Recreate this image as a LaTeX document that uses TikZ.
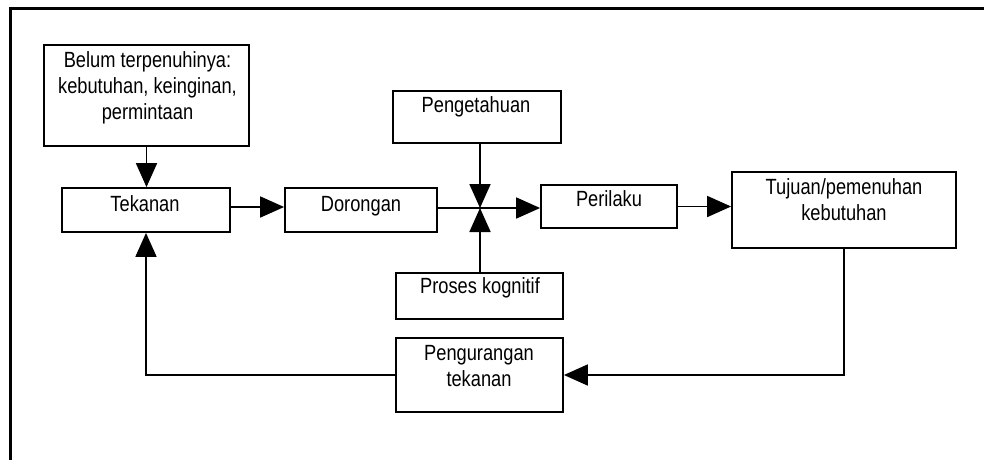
\documentclass[tikz,border=0pt]{standalone}
\usepackage{fontspec}
\setmainfont{Liberation Sans}[FakeStretch=0.83]
\usetikzlibrary{arrows.meta}
\newcommand{\mlines}[1]{\begin{tabular}[t]{@{}c@{}}#1\end{tabular}}
\begin{document}
\begin{tikzpicture}[x=1pt,y=-1pt,
  box/.style={draw, line width=1.8pt, inner sep=0pt, rectangle},
  lbl/.style={anchor=base, inner sep=0pt, font=\fontsize{22}{26}\selectfont},
  con/.style={line width=1.8pt},
  arr/.style={line width=1.8pt, -{Triangle[length=24pt,width=21pt]}}]
\useasboundingbox (0,0) rectangle (984,459);
% outer frame
\draw[line width=3pt] (10,465) -- (10,8) -- (990,8);
% boxes
\node[box, minimum width=205pt, minimum height=101pt] (belum) at (146.5,95.5) {};
\node[box, minimum width=168pt, minimum height=44pt] (tekanan) at (146,210) {};
\node[box, minimum width=152pt, minimum height=44pt] (dorongan) at (361,210) {};
\node[box, minimum width=168pt, minimum height=52pt] (pengetahuan) at (477,117) {};
\node[box, minimum width=136pt, minimum height=43pt] (perilaku) at (609,206.5) {};
\node[box, minimum width=167pt, minimum height=46pt] (proses) at (479.5,296) {};
\node[box, minimum width=224pt, minimum height=76pt] (tujuan) at (844,210) {};
\node[box, minimum width=167pt, minimum height=74pt] (pengurangan) at (479.5,375) {};
% labels
\node[lbl] (belumt) at (147.5,67.5) {\mlines{Belum terpenuhinya:\\kebutuhan, keinginan,\\permintaan}};
\node[lbl] (tekanant) at (145,211.5) {Tekanan};
\node[lbl] (dorongant) at (361,211.5) {Dorongan};
\node[lbl] (pengetahuant) at (476,112.5) {Pengetahuan};
\node[lbl] (perilakut) at (609,206) {Perilaku};
\node[lbl] (prosest) at (480,293) {Proses kognitif};
\node[lbl] (tujuant) at (844,194) {\mlines{Tujuan/pemenuhan\\kebutuhan}};
\node[lbl] (pengurangant) at (479,360) {\mlines{Pengurangan\\tekanan}};
% connectors
\coordinate (junc) at (480,208);
\draw[arr] (belum.south) -- (belum.south |- tekanan.north);
\draw[arr] (tekanan.east |- 0,207) -- (dorongan.west |- 0,207);
\draw[con] (dorongan.east |- junc) -- (junc);
\draw[arr] (junc) -- (junc -| perilaku.west);
\draw[arr] (pengetahuan.south -| junc) -- (junc);
\draw[arr] (proses.north -| junc) -- (junc);
\draw[arr] (perilaku.east) -- (perilaku.east -| tujuan.west);
\draw[arr] (tujuan.south) |- (pengurangan.east);
\draw[arr] (pengurangan.west) -| (tekanan.south);
\end{tikzpicture}
\end{document}
